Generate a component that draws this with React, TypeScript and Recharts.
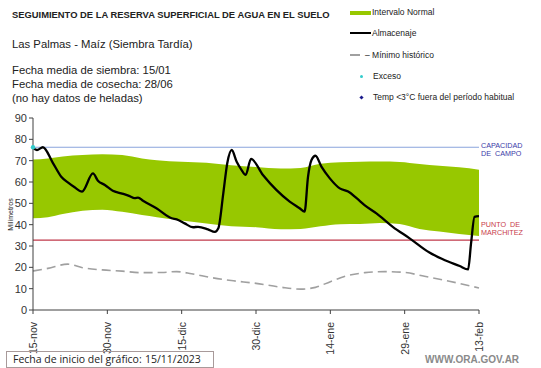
import React from 'react';
import {
  ComposedChart, Area, Line, Scatter, XAxis, YAxis, ReferenceLine,
} from 'recharts';

// x values are days since 15-nov-2023
const TICK_DAYS = [0, 15, 30, 45, 60, 75, 90];
const TICK_LABELS = ['15-nov', '30-nov', '15-dic', '30-dic', '14-ene', '29-ene', '13-feb'];
const Y_TICKS = [0, 10, 20, 30, 40, 50, 60, 70, 80, 90];

const CAPACIDAD = 76.3;
const MARCHITEZ = 32.8;

// Intervalo normal (lower / upper limits)
const bandDays = [0, 3, 6, 10, 14, 18, 22, 25, 30, 35, 40, 45, 50, 54, 58, 62, 66, 70, 74, 78, 82, 86, 90];
const bandLow = [43, 43.5, 45, 46.5, 47, 46, 44.5, 43.5, 42, 40.6, 39.3, 38.8, 37.8, 38, 39.2, 40.2, 40.3, 40.8, 40.3, 38, 36.8, 35.6, 34.7];
const bandHigh = [70.5, 71, 72, 72.6, 73, 72.6, 71, 70.2, 69.5, 69, 67.8, 67, 66.3, 66.6, 68.6, 69.3, 69.5, 69.6, 69.4, 68.4, 67.6, 66.9, 65.8];

// Mínimo histórico
const minDays = [0, 3, 7, 10, 14, 18, 22, 26, 29, 32, 36, 40, 45, 50, 54, 57, 60, 63, 67, 71, 75, 79, 84, 90];
const minVals = [18.3, 19.5, 21.5, 19.8, 18.8, 18.2, 17.5, 17.6, 18, 17, 15.2, 13.8, 12.5, 10.7, 9.8, 10.6, 13.3, 15.8, 17.5, 18, 17.6, 15.8, 13.5, 10.3];

// Almacenaje
const almDays = [0, 0.8, 2, 4, 5.7, 7.1, 8.4, 9.9, 12.1, 13.1, 14.5, 16.1, 17.8, 19.5, 20.5, 21.2, 22.2, 24.9, 28, 29, 30.6, 32.3, 33.3, 35.3, 36.7, 37.4, 38.4, 39.2, 40.1, 41.1, 42.1, 42.9, 44, 46.4, 49.1, 51.8, 53.8, 54.8, 55.5, 56.2, 57, 58.2, 59.9, 61.9, 63.6, 65.3, 66.9, 69.3, 72.6, 76, 80, 82.7, 86.1, 87.8, 88.4, 89.1, 90];
const almVals = [76, 75, 76.3, 69, 62.5, 59.7, 57.5, 55.5, 64, 60.6, 58.6, 55.9, 54.7, 53.4, 52.4, 52.7, 51.2, 47.7, 43, 42.5, 40.6, 38.8, 39, 37.8, 36.6, 38.3, 54.7, 68.8, 75, 69.5, 65.6, 63.3, 70.8, 63.3, 56.3, 50.8, 47.7, 46.1, 62.5, 70.3, 72.3, 67.2, 61.7, 57, 55.5, 52.4, 49.2, 45.3, 39, 33.6, 26.9, 23.8, 20.6, 19, 31.3, 43.7, 44];

// Exceso
const excesoDays = [0];
const excesoVals = [76.3];

type Row = { d: number; lo?: number; hi?: number; min?: number; alm?: number };

function buildRows(): Row[] {
  const map = new Map<number, Row>();
  const get = (d: number) => {
    if (!map.has(d)) map.set(d, { d });
    return map.get(d)!;
  };
  bandDays.forEach((d, i) => { const r = get(d); r.lo = bandLow[i]; r.hi = bandHigh[i]; });
  minDays.forEach((d, i) => { get(d).min = minVals[i]; });
  almDays.forEach((d, i) => { get(d).alm = almVals[i]; });
  return [...map.values()].sort((a, b) => a.d - b.d);
}

const rows = buildRows();
const excesoRows = excesoDays.map((d, i) => ({ d, v: excesoVals[i] }));

const FONT = '"Liberation Sans", Arial, sans-serif';

function XTick({ x, y, payload }: any) {
  const label = TICK_LABELS[TICK_DAYS.indexOf(payload.value)] ?? '';
  return (
    <text x={x} y={y} transform={`rotate(-90 ${x} ${y})`} dx={-6} dy={4} textAnchor="end"
      fontSize={10.5} fill="#333" fontFamily={FONT}>
      {label}
    </text>
  );
}

function Dot({ cx, cy }: any) {
  return <circle cx={cx} cy={cy} r={2.2} fill="#33cccc" />;
}

const abs = (left: number, top: number, extra: React.CSSProperties = {}): React.CSSProperties => ({
  position: 'absolute', left, top, whiteSpace: 'nowrap', ...extra,
});

export default function App() {
  return (
    <div style={{ position: 'absolute', left: 0, top: 0, width: 541, height: 368, background: '#fff', fontFamily: FONT, color: '#222', overflow: 'hidden' }}>
      <ComposedChart width={541} height={368} data={rows}
        margin={{ top: 118, right: 62, bottom: 10, left: 8 }}>
        <XAxis dataKey="d" type="number" domain={[0, 90]} ticks={TICK_DAYS} interval={0}
          tick={<XTick />} height={48} stroke="#404040" tickSize={4} />
        <YAxis domain={[0, 90]} ticks={Y_TICKS} width={25} stroke="#404040" tickSize={4}
          tick={{ fontSize: 11, fill: '#333', fontFamily: FONT }} />
        <Area dataKey={(r: Row) => (r.lo === undefined ? null : [r.lo, r.hi])} type="monotone"
          stroke="none" fill="#97c800" fillOpacity={1} connectNulls isAnimationActive={false} />
        <ReferenceLine y={CAPACIDAD} stroke="#8aa4dc" strokeWidth={1.2} />
        <ReferenceLine y={MARCHITEZ} stroke="#c0394a" strokeWidth={1.2} />
        <Line dataKey="min" type="monotone" stroke="#a0a0a0" strokeWidth={1.6} strokeDasharray="9 5"
          dot={false} connectNulls isAnimationActive={false} />
        <Line dataKey="alm" type="monotone" stroke="#000" strokeWidth={2.3}
          dot={false} connectNulls isAnimationActive={false} />
        <Scatter data={excesoRows} dataKey="v" shape={<Dot />} isAnimationActive={false} />
      </ComposedChart>

      {/* y axis title */}
      <div style={abs(-12, 211, { fontSize: 7, transform: 'rotate(-90deg)', width: 44, textAlign: 'center' })}>Milímetros</div>

      {/* header texts */}
      <div style={abs(12, 9, { fontSize: 9.4, fontWeight: 'bold' })}>SEGUIMIENTO DE LA RESERVA SUPERFICIAL DE AGUA EN EL SUELO</div>
      <div style={abs(12, 38, { fontSize: 11.3 })}>Las Palmas - Maíz (Siembra Tardía)</div>
      <div style={abs(12, 63, { fontSize: 11.3, lineHeight: '14px' })}>
        Fecha media de siembra: 15/01<br />Fecha media de cosecha: 28/06<br />(no hay datos de heladas)
      </div>

      {/* legend */}
      <div style={abs(350, 11, { width: 21, height: 4, background: '#97c800' })} />
      <div style={abs(372, 7, { fontSize: 8.5 })}>Intervalo Normal</div>
      <div style={abs(350, 32, { width: 21, height: 2, background: '#000' })} />
      <div style={abs(372, 28, { fontSize: 8.5 })}>Almacenaje</div>
      <div style={abs(350, 54, { width: 10, height: 1.5, background: '#a0a0a0' })} />
      <div style={abs(365, 50, { fontSize: 8.5 })}>– Mínimo histórico</div>
      <div style={abs(360, 75, { width: 3, height: 3, borderRadius: 2, background: '#33cccc' })} />
      <div style={abs(373, 71, { fontSize: 8.5 })}>Exceso</div>
      <div style={abs(360, 96, { width: 3, height: 3, background: '#1a1a8c', transform: 'rotate(45deg)' })} />
      <div style={abs(373, 92, { fontSize: 8.5 })}>Temp &lt;3°C fuera del período habitual</div>

      {/* reference labels */}
      <div style={abs(481, 142, { fontSize: 7.2, color: '#3a3aa8', lineHeight: '8px' })}>CAPACIDAD<br />DE&nbsp; CAMPO</div>
      <div style={abs(481, 221, { fontSize: 7.2, color: '#c83c4a', lineHeight: '8px' })}>PUNTO&nbsp; DE<br />MARCHITEZ</div>

      {/* footer */}
      <div style={abs(6, 351, { width: 206, height: 15, border: '1px solid #a89a9a', fontFamily: '"Open Sans", sans-serif', fontSize: 10.5, lineHeight: '15px' })}>
        <span style={{ position: 'absolute', left: 6 }}>Fecha de inicio del gráfico:</span>
        <span style={{ position: 'absolute', left: 138 }}>15/11/2023</span>
      </div>
      <div style={abs(425, 354, { fontSize: 10, fontWeight: 'bold', color: '#8a8a8a' })}>WWW.ORA.GOV.AR</div>
    </div>
  );
}
